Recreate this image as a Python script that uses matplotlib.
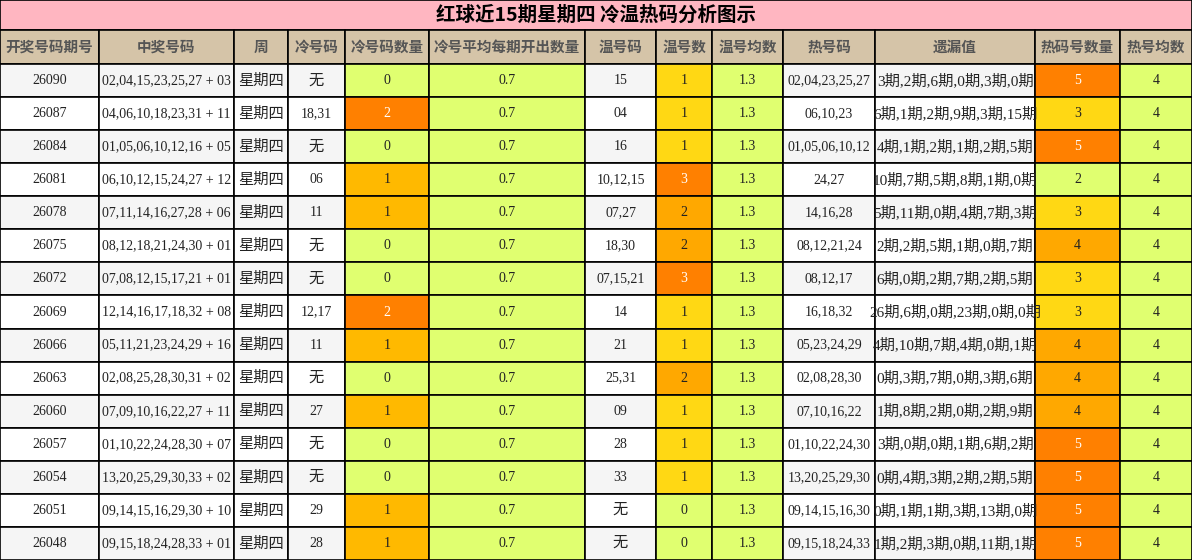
import matplotlib
matplotlib.use("Agg")
import matplotlib.pyplot as plt
from matplotlib.patches import Rectangle

title = "红球近15期星期四 冷温热码分析图示"
headers = ["开奖号码期号", "中奖号码", "周", "冷号码", "冷号码数量", "冷号平均每期开出数量",
           "温号码", "温号数", "温号均数", "热号码", "遗漏值", "热码号数量", "热号均数"]
col_edges = [0, 99, 234, 288, 345, 429, 585, 656, 712, 783, 875, 1035, 1120, 1192]

issues = ["26090", "26087", "26084", "26081", "26078", "26075", "26072", "26069",
          "26066", "26063", "26060", "26057", "26054", "26051", "26048"]
numbers = ["02,04,15,23,25,27 + 03", "04,06,10,18,23,31 + 11", "01,05,06,10,12,16 + 05",
           "06,10,12,15,24,27 + 12", "07,11,14,16,27,28 + 06", "08,12,18,21,24,30 + 01",
           "07,08,12,15,17,21 + 01", "12,14,16,17,18,32 + 08", "05,11,21,23,24,29 + 16",
           "02,08,25,28,30,31 + 02", "07,09,10,16,22,27 + 11", "01,10,22,24,28,30 + 07",
           "13,20,25,29,30,33 + 02", "09,14,15,16,29,30 + 10", "09,15,18,24,28,33 + 01"]
cold = ["无", "18,31", "无", "06", "11", "无", "无", "12,17", "11", "无", "27", "无", "无", "29", "28"]
cold_n = [0, 2, 0, 1, 1, 0, 0, 2, 1, 0, 1, 0, 0, 1, 1]
warm = ["15", "04", "16", "10,12,15", "07,27", "18,30", "07,15,21", "14", "21", "25,31",
        "09", "28", "33", "无", "无"]
warm_n = [1, 1, 1, 3, 2, 2, 3, 1, 1, 2, 1, 1, 1, 0, 0]
hot = ["02,04,23,25,27", "06,10,23", "01,05,06,10,12", "24,27", "14,16,28", "08,12,21,24",
       "08,12,17", "16,18,32", "05,23,24,29", "02,08,28,30", "07,10,16,22", "01,10,22,24,30",
       "13,20,25,29,30", "09,14,15,16,30", "09,15,18,24,33"]
miss = ["3期,2期,6期,0期,3期,0期", "6期,1期,2期,9期,3期,15期", "4期,1期,2期,1期,2期,5期",
        "10期,7期,5期,8期,1期,0期", "5期,11期,0期,4期,7期,3期", "2期,2期,5期,1期,0期,7期",
        "6期,0期,2期,7期,2期,5期", "26期,6期,0期,23期,0期,0期", "4期,10期,7期,4期,0期,1期",
        "0期,3期,7期,0期,3期,6期", "1期,8期,2期,0期,2期,9期", "3期,0期,0期,1期,6期,2期",
        "0期,4期,3期,2期,2期,5期", "0期,1期,1期,3期,13期,0期", "1期,2期,3期,0期,11期,1期"]
hot_n = [5, 3, 5, 2, 3, 4, 3, 3, 4, 4, 4, 5, 5, 5, 5]
cold_avg = "0.7"
warm_avg = "1.3"
hot_avg = "4"

GREEN = "#e0ff70"
ORANGE = "#ff8000"
GOLD = "#ffd814"
AMBER = "#ffa800"
cold_col = {0: GREEN, 1: "#ffb900", 2: ORANGE}
warm_col = {0: GREEN, 1: GOLD, 2: AMBER, 3: ORANGE}
hot_col = {2: GREEN, 3: GOLD, 4: AMBER, 5: ORANGE}

W, H = 1192, 560
title_h, head_h = 30, 34
row_h = (H - title_h - head_h) / len(issues)

fig = plt.figure(figsize=(W / 100, H / 100), dpi=100)
ax = fig.add_axes([0, 0, 1, 1])
ax.set_xlim(0, W)
ax.set_ylim(H, 0)
ax.axis("off")

serif = ["Liberation Serif", "Noto Sans CJK SC"]
sans = ["Noto Sans CJK SC", "DejaVu Sans"]


def cell(x0, x1, y0, y1, fc, text, color="#222222", family=serif, size=10, weight="normal"):
    ax.add_patch(Rectangle((x0, y0), x1 - x0, y1 - y0, facecolor=fc, edgecolor="black", lw=1.2))
    ax.text((x0 + x1) / 2, (y0 + y1) / 2, text, ha="center", va="center", color=color,
            family=family, fontsize=size, fontweight=weight)


cell(0, W, 0, title_h, "#ffb6c1", title, color="black", family=sans, size=14, weight="bold")
for j, h in enumerate(headers):
    cell(col_edges[j], col_edges[j + 1], title_h, title_h + head_h, "#d5c4a8", h,
         color="#555555", family=sans, size=10.5, weight="bold")

for i in range(len(issues)):
    y0 = title_h + head_h + i * row_h
    y1 = y0 + row_h
    base = "#f5f5f5" if i % 2 == 0 else "white"
    cn, wn, hn = cold_n[i], warm_n[i], hot_n[i]
    row = [
        (issues[i], base, "#222222"),
        (numbers[i], base, "#222222"),
        ("星期四", base, "#222222"),
        (cold[i], base, "#222222"),
        (str(cn), cold_col[cn], "white" if cn == 2 else "#222222"),
        (cold_avg, GREEN, "#222222"),
        (warm[i], base, "#222222"),
        (str(wn), warm_col[wn], "white" if wn == 3 else "#222222"),
        (warm_avg, GREEN, "#222222"),
        (hot[i], base, "#222222"),
        (miss[i], base, "#222222"),
        (str(hn), hot_col[hn], "white" if hn == 5 else "#222222"),
        (hot_avg, GREEN, "#222222"),
    ]
    for j, (t, fc, tc) in enumerate(row):
        size = 11 if t in ("无", "星期四") or "期" in t else 10
        cell(col_edges[j], col_edges[j + 1], y0, y1, fc, t, color=tc, size=size)

fig.savefig("out.png", dpi=100)
